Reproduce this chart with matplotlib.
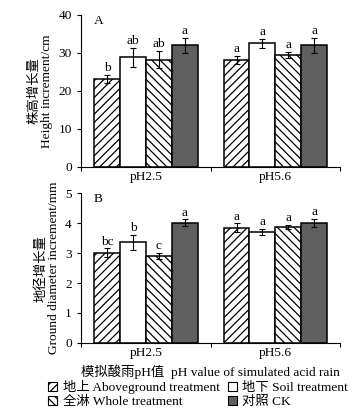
import numpy as np
import matplotlib.pyplot as plt
from matplotlib.patches import Patch

plt.rcParams['font.family'] = ['Liberation Serif', 'Noto Sans CJK SC']
plt.rcParams['hatch.linewidth'] = 0.9

# data
groups = ['pH2.5', 'pH5.6']
treatments = ['地上 Aboveground treatment', '地下 Soil treatment',
              '全淋 Whole treatment', '对照 CK']

height = [[23.2, 28.9, 28.2, 32.0],
          [28.2, 32.5, 29.5, 32.0]]
height_err = [[1.0, 2.5, 2.3, 2.0],
              [1.05, 1.2, 0.8, 2.0]]
height_sig = [['b', 'ab', 'ab', 'a'],
              ['a', 'a', 'a', 'a']]

diam = [[3.01, 3.36, 2.92, 4.02],
        [3.85, 3.72, 3.87, 4.02]]
diam_err = [[0.15, 0.26, 0.10, 0.11],
            [0.15, 0.10, 0.07, 0.13]]
diam_sig = [['bc', 'b', 'c', 'a'],
            ['a', 'a', 'a', 'a']]

styles = [dict(facecolor='white', hatch='////'),
          dict(facecolor='white', hatch=''),
          dict(facecolor='white', hatch='\\\\\\\\'),
          dict(facecolor='#5f5f5f', hatch='')]

width = 0.2
fs = 9.6


def draw(ax, vals, errs, sigs, ymax, step, letter, off):
    for g in range(len(groups)):
        for i in range(len(treatments)):
            x = g + 0.5 + (i - 1.5) * width
            ax.bar(x, vals[g][i], width, edgecolor='black', linewidth=1.1,
                   **styles[i])
            ax.errorbar(x, vals[g][i], yerr=errs[g][i], color='black',
                        capsize=2, elinewidth=0.8, capthick=0.8)
            ax.text(x, vals[g][i] + errs[g][i] + off, sigs[g][i],
                    ha='center', va='bottom', fontsize=fs)
    ax.set_xlim(0, 2)
    ax.set_ylim(0, ymax)
    ax.set_yticks(np.arange(0, ymax + step / 2, step))
    ax.set_xticks([0, 1, 2])
    ax.set_xticklabels([])
    ax.set_xticks([0.5, 1.5], minor=True)
    ax.set_xticklabels(groups, minor=True, fontsize=fs)
    ax.tick_params(axis='x', which='minor', length=0, pad=3)
    ax.tick_params(axis='x', which='major', length=3, direction='out')
    ax.tick_params(axis='y', labelsize=fs, length=3)
    ax.spines['top'].set_visible(False)
    ax.spines['right'].set_visible(False)
    ax.text(0.05, 1.0, letter, transform=ax.transAxes, fontsize=fs,
            va='top', ha='left')


fig = plt.figure(figsize=(3.6, 4.15), dpi=100)
axA = fig.add_axes([0.225, 0.598, 0.72, 0.366])
axB = fig.add_axes([0.225, 0.174, 0.72, 0.36])

draw(axA, height, height_err, height_sig, 40, 10, 'A', 0.2)
draw(axB, diam, diam_err, diam_sig, 5, 1, 'B', 0.02)

axA.set_ylabel('株高增长量\nHeight increment/cm', fontsize=fs,
               linespacing=1.05, labelpad=4)
axB.set_ylabel('地径增长量\nGround diameter increment/mm', fontsize=fs,
               linespacing=1.05, labelpad=4)
axB.set_xlabel('模拟酸雨pH值  pH value of simulated acid rain',
               fontsize=fs, labelpad=4)

order = [0, 2, 1, 3]
handles = [Patch(edgecolor='black', linewidth=0.8, **styles[i]) for i in order]
fig.legend(handles, [treatments[i] for i in order], ncol=2,
           loc='lower center', bbox_to_anchor=(0.55, -0.012), frameon=False,
           fontsize=fs, handlelength=0.7, handleheight=0.7,
           handletextpad=0.4, columnspacing=0.6, labelspacing=0.12)

fig.savefig('out.png', dpi=100)
